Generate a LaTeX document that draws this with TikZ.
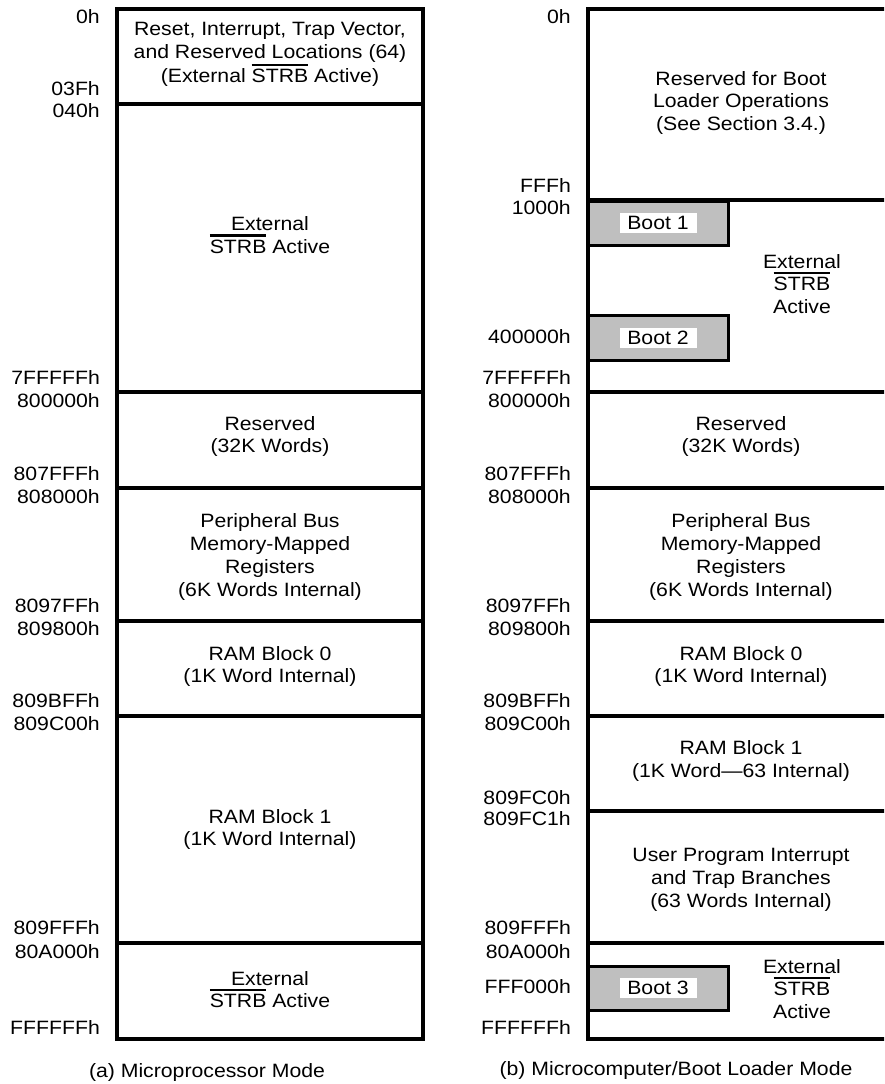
\documentclass[tikz,border=0pt]{standalone}
\usepackage{fontspec}
\setmainfont{Liberation Sans}[FakeStretch=1.1]
\newcommand\fsz{\fontsize{19.3}{22.8}\selectfont}
\newcommand\ovl[1]{\setbox0=\hbox{#1}\rlap{\raisebox{\dimexpr\ht0+3pt\relax}{\rule{\wd0}{2.6pt}}}#1}
\begin{document}
\begin{tikzpicture}[x=1pt,y=-1pt,
  mem/.style={line width=3.2pt},
  lbl/.style={font=\fsz, align=center, inner sep=0pt},
  addr/.style={font=\fsz, anchor=east, inner sep=0pt},
  bootbox/.style={draw, line width=3pt, fill=black!25},
  bootlbl/.style={font=\fsz, fill=white, inner sep=0pt, minimum width=77pt, minimum height=20pt}]
\useasboundingbox (0,0) rectangle (884,1084);
\clip (0,0) rectangle (884,1084);
% ---------- left map ----------
\draw[mem] (117,9) rectangle (423,1039);
\foreach \yy in {104,392,488,621,716,943} \draw[mem] (117,\yy) -- (423,\yy);
% ---------- right map ----------
\draw[bootbox] (588,201) rectangle (728,245);
\draw[bootbox] (588,315) rectangle (728,360);
\draw[bootbox] (588,966) rectangle (728,1010);
\draw[mem] (588,9) rectangle (894,1039);
\foreach \yy in {200,392,488,621,716,811,943} \draw[mem] (588,\yy) -- (894,\yy);
\node[bootlbl] (b1) at (658,223) {Boot 1};
\node[bootlbl] (b2) at (658,338) {Boot 2};
\node[bootlbl] (b3) at (658,988) {Boot 3};
% ---------- left texts ----------
\node[lbl] (l1) at (270,54.5) {Reset, Interrupt, Trap Vector,\\and Reserved Locations (64)\\(External \ovl{STRB} Active)};
\node[lbl] (l2) at (270,235) {External\\\ovl{STRB} Active};
\node[lbl] (l3) at (270,436.5) {Reserved\\(32K Words)};
\node[lbl] (l4) at (270,557) {Peripheral Bus\\Memory-Mapped\\Registers\\(6K Words Internal)};
\node[lbl] (l5) at (270,666.5) {RAM Block 0\\(1K Word Internal)};
\node[lbl] (l6) at (270,829.5) {RAM Block 1\\(1K Word Internal)};
\node[lbl] (l7) at (270,989.5) {External\\\ovl{STRB} Active};
% ---------- right texts ----------
\node[lbl] (r1) at (741,103) {Reserved for Boot\\Loader Operations\\(See Section 3.4.)};
\node[lbl] (r2) at (802,284) {External\\\ovl{STRB}\\Active};
\node[lbl] (r3) at (741,436.5) {Reserved\\(32K Words)};
\node[lbl] (r4) at (741,557) {Peripheral Bus\\Memory-Mapped\\Registers\\(6K Words Internal)};
\node[lbl] (r5) at (741,666.5) {RAM Block 0\\(1K Word Internal)};
\node[lbl] (r6) at (741,761) {RAM Block 1\\(1K Word—63 Internal)};
\node[lbl] (r7) at (741,880) {User Program Interrupt\\and Trap Branches\\(63 Words Internal)};
\node[lbl] (r8) at (802,989) {External\\\ovl{STRB}\\Active};
% ---------- captions ----------
\node[lbl] (ca) at (207,1072) {(a) Microprocessor Mode};
\node[lbl] (cb) at (676,1070) {(b) Microcomputer/Boot Loader Mode};
% ---------- left addresses ----------
\foreach \t/\yy [count=\i] in {0h/17,03Fh/89,040h/111,7FFFFFh/378,800000h/401,807FFFh/474,808000h/497,8097FFh/606,809800h/629,809BFFh/701,809C00h/724,809FFFh/928,80A000h/952,FFFFFFh/1027}
  \node[addr] (la\i) at (100,\yy) {\t};
% ---------- right addresses ----------
\foreach \t/\yy [count=\i] in {0h/17,FFFh/186,1000h/208,400000h/337,7FFFFFh/378,800000h/401,807FFFh/474,808000h/497,8097FFh/606,809800h/629,809BFFh/701,809C00h/724,809FC0h/798,809FC1h/819,809FFFh/928,80A000h/952,FFF000h/987,FFFFFFh/1027}
  \node[addr] (ra\i) at (571,\yy) {\t};
\end{tikzpicture}
\end{document}
